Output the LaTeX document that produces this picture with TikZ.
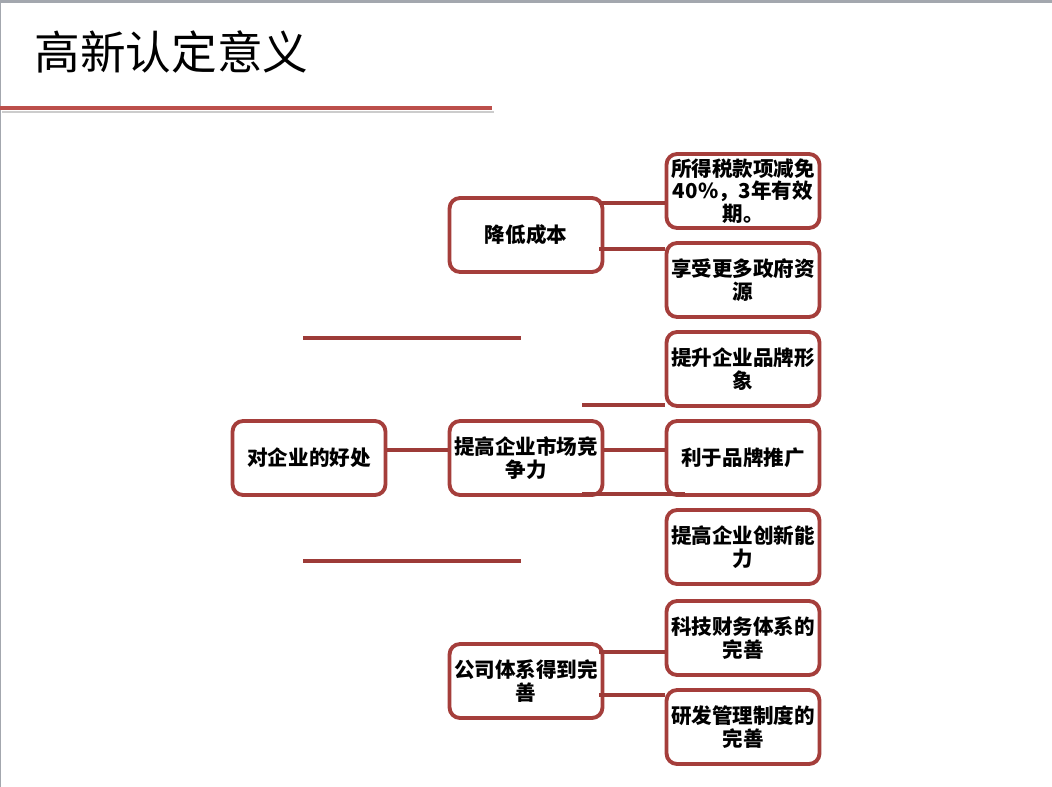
\documentclass[tikz,border=0pt]{standalone}
\usepackage{fontspec}
\setmainfont{Noto Sans CJK SC}
\usepackage{tikz}
\usetikzlibrary{positioning,shadows}
\definecolor{catRojoLadrillo}{HTML}{A53E3B}
\definecolor{catRojoTitulo}{HTML}{BC4F4B}
\definecolor{catGrisMarco}{HTML}{A3A7AE}
\colorlet{colCaja}{catRojoLadrillo}
\colorlet{colEnlace}{catRojoLadrillo!95!black}

\tikzset{
  caja/.style={draw=colCaja, line width=2.2pt, rounded corners=6pt, fill=white,
    minimum width=3.06cm, minimum height=1.48cm, inner sep=1pt, align=center,
    font=\bfseries\fontsize{11.7}{12.8}\selectfont,
    drop shadow={opacity=0.3, shadow xshift=0.8pt, shadow yshift=-0.8pt}},
  enlace/.style={colEnlace, line width=2pt}
}

\begin{document}
\begin{tikzpicture}[x=0.02cm, y=-0.02cm]
        \useasboundingbox (0,0) rectangle (1052,787);
        % Titulo
        \draw[catGrisMarco, line width=2pt] (0,1) -- (1052,1);
        \draw[catGrisMarco, line width=0.8pt] (0.4,0) -- (0.4,787);
        \node[anchor=west, inner sep=0pt, font=\fontsize{26}{30}\selectfont] (titulo) at (34,52) {高新认定意义};
        \draw[black!20, line width=1pt] (2,112) -- (494,112);
        \draw[catRojoTitulo, line width=2.3pt] (0,108) -- (492,108);

        % Cajas
        \node[caja] (haochu) at (309,458) {对企业的好处};
        \node[caja] (jiangdi) at (526,235) {降低成本};
        \node[caja] (jingzheng) at (526,458) {提高企业市场竞\\争力};
        \node[caja] (tixi) at (526,681) {公司体系得到完\\善};
        \node[caja] (suode) at (743,191) {所得税款项减免\\40\%，3年有效\\期。};
        \node[caja] (xiangshou) at (743,280) {享受更多政府资\\源};
        \node[caja] (tisheng) at (743,369) {提升企业品牌形\\象};
        \node[caja] (tuiguang) at (743,458) {利于品牌推广};
        \node[caja] (chuangxin) at (743,547) {提高企业创新能\\力};
        \node[caja] (caiwu) at (743,638) {科技财务体系的\\完善};
        \node[caja] (yanfa) at (743,727) {研发管理制度的\\完善};

        % Enlaces
        \coordinate (e1) at (303,338);
        \coordinate (e2) at (521,338);
        \coordinate (e3) at (303,561);
        \coordinate (e4) at (521,561);
        \coordinate (e5) at (599,203);
        \coordinate (e6) at (599,249);
        \coordinate (e7) at (582,405);
        \coordinate (e8) at (582,494);
        \coordinate (e9) at (685,494);
        \coordinate (e10) at (599,652);
        \coordinate (e11) at (599,695);
        \draw[enlace] (e1) -- (e2);
        \draw[enlace] (e3) -- (e4);
        \draw[enlace] (haochu.east |- 0,450) -- (jingzheng.west |- 0,450);
        \draw[enlace] (jingzheng.east |- 0,450) -- (tuiguang.west |- 0,450);
        \draw[enlace] (e5) -- (e5 -| suode.west);
        \draw[enlace] (e6) -- (e6 -| xiangshou.west);
        \draw[enlace] (e7) -- (e7 -| tisheng.west);
        \draw[enlace] (e8) -- (e9);
        \draw[enlace] (e10) -- (e10 -| caiwu.west);
        \draw[enlace] (e11) -- (e11 -| yanfa.west);
\end{tikzpicture}
\end{document}
